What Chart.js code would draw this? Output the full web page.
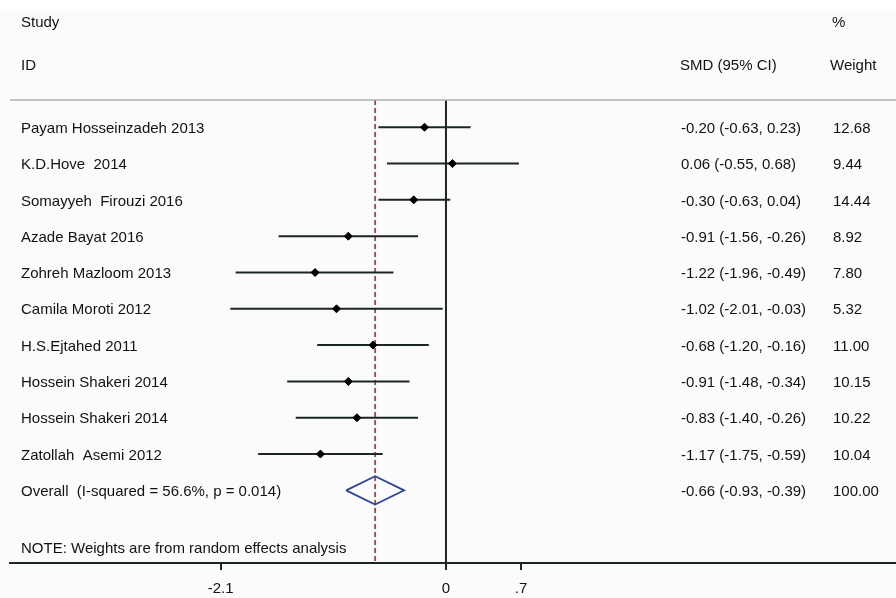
<!DOCTYPE html>
<html>
<head>
<meta charset="utf-8">
<script src="https://cdn.jsdelivr.net/npm/chart.js@4/dist/chart.umd.min.js"></script>
<style>
  html, body { margin: 0; padding: 0; background: #ffffff; }
  #forest { display: block; }
</style>
</head>
<body>
<canvas id="forest" width="896" height="598"></canvas>
<script>
// Study data (SMD and 95% CI)
var studies = [ 'Payam Hosseinzadeh 2013', 'K.D.Hove  2014', 'Somayyeh  Firouzi 2016', 'Azade Bayat 2016',
                'Zohreh Mazloom 2013', 'Camila Moroti 2012', 'H.S.Ejtahed 2011', 'Hossein Shakeri 2014',
                'Hossein Shakeri 2014', 'Zatollah  Asemi 2012' ];
var smd     = [ -0.20, 0.06, -0.30, -0.91, -1.22, -1.02, -0.68, -0.91, -0.83, -1.17 ];
var ciLow   = [ -0.63, -0.55, -0.63, -1.56, -1.96, -2.01, -1.20, -1.48, -1.40, -1.75 ];
var ciHigh  = [ 0.23, 0.68, 0.04, -0.26, -0.49, -0.03, -0.16, -0.34, -0.26, -0.59 ];
var weights = [ '12.68', '9.44', '14.44', '8.92', '7.80', '5.32', '11.00', '10.15', '10.22', '10.04' ];

var overallLabel  = 'Overall  (I-squared = 56.6%, p = 0.014)';
var overallSmd    = -0.66;
var overallLow    = -0.93;
var overallHigh   = -0.39;
var overallWeight = '100.00';

var xTicks      = [ -2.1, 0, 0.7 ];
var xTickLabels = [ '-2.1', '0', '.7' ];

var FAMILY = '"Liberation Sans", Arial, sans-serif',
    FONT = '15px ' + FAMILY,
    TEXT = '#0f1315',
    INK  = '#1c2626',
    xMin = -4.063, xMax = 4.194,   // plot spans the full width
    yMin = -0.75,  yMax = 12,      // row index, top to bottom
    overallRow = studies.length,
    diamondHalf = 0.39,
    textDrop = 1.5;                // visual centring of text on the rows

function fmt( v ){ return v.toFixed( 2 ); }
function smdText( e, l, h ){ return fmt( e ) + ' (' + fmt( l ) + ', ' + fmt( h ) + ')'; }

var datasets = [];

// point estimates
datasets.push( {
    data: smd.map( function( v, i ){ return { x: v, y: i }; } ),
    pointStyle: 'rectRot', pointRadius: 4, backgroundColor: '#000', borderColor: '#000',
    showLine: false, order: 0
} );

// confidence intervals
studies.forEach( function( s, i ){
    datasets.push( {
        data: [ { x: ciLow[ i ], y: i }, { x: ciHigh[ i ], y: i } ],
        showLine: true, borderColor: INK, borderWidth: 2, pointRadius: 0, order: 1
    } );
} );

// overall diamond
datasets.push( {
    data: [ { x: overallLow, y: overallRow }, { x: overallSmd, y: overallRow - diamondHalf },
            { x: overallHigh, y: overallRow }, { x: overallSmd, y: overallRow + diamondHalf },
            { x: overallLow, y: overallRow } ],
    showLine: true, borderColor: '#2d4696', borderWidth: 1.8, pointRadius: 0, tension: 0, order: 1
} );

// line of no effect
datasets.push( {
    data: [ { x: 0, y: yMin }, { x: 0, y: yMax } ],
    showLine: true, borderColor: INK, borderWidth: 2, pointRadius: 0, order: 2
} );

// overall effect (dashed)
datasets.push( {
    data: [ { x: overallSmd, y: yMin }, { x: overallSmd, y: yMax } ],
    showLine: true, borderColor: '#a3444a', borderWidth: 1.8, borderDash: [ 5, 3 ], pointRadius: 0, order: 3
} );

// background + text columns
var forestText = {
    id: 'forestText',
    beforeDraw: function( chart ){
        var c = chart.ctx;
        c.save();
        c.fillStyle = '#fbfbfc';
        c.fillRect( 0, 10, chart.width, chart.height - 10 );
        c.restore();
    },
    afterDatasetsDraw: function( chart ){
        var c  = chart.ctx,
            ys = chart.scales.y,
            area = chart.chartArea;
        c.save();
        c.font = FONT;
        c.fillStyle = TEXT;
        c.textBaseline = 'middle';
        c.textAlign = 'left';

        // headers
        c.fillText( 'Study', 21, 21 + textDrop );
        c.fillText( 'ID', 21, 64 + textDrop );
        c.fillText( '%', 832, 21 + textDrop );
        c.fillText( 'SMD (95% CI)', 680, 64 + textDrop );
        c.fillText( 'Weight', 830, 64 + textDrop );

        // header separator
        c.strokeStyle = '#a9b1b8';
        c.lineWidth = 1.5;
        c.beginPath();
        c.moveTo( area.left, area.top );
        c.lineTo( area.right, area.top );
        c.stroke();

        studies.forEach( function( s, i ){
            var y = ys.getPixelForValue( i ) + textDrop;
            c.fillText( s, 21, y );
            c.fillText( smdText( smd[ i ], ciLow[ i ], ciHigh[ i ] ), 681, y );
            c.fillText( weights[ i ], 833, y );
        } );

        var y = ys.getPixelForValue( overallRow ) + textDrop;
        c.fillText( overallLabel, 21, y );
        c.fillText( smdText( overallSmd, overallLow, overallHigh ), 681, y );
        c.fillText( overallWeight, 833, y );

        c.fillText( 'NOTE: Weights are from random effects analysis', 21, 547 + textDrop );
        c.restore();
    }
};

new Chart( document.getElementById( 'forest' ).getContext( '2d' ), {
    type: 'scatter',
    data: { datasets: datasets },
    options: {
        responsive: false,
        animation: false,
        devicePixelRatio: 1,
        layout: { autoPadding: false, padding: { left: 10, right: 0, top: 100, bottom: 0 } },
        plugins: { legend: { display: false }, tooltip: { enabled: false } },
        scales: {
            x: {
                type: 'linear', min: xMin, max: xMax,
                afterBuildTicks: function( s ){ s.ticks = xTicks.map( function( v ){ return { value: v }; } ); },
                afterFit: function( s ){ s.height = 35; },
                ticks: {
                    autoSkip: false, maxRotation: 0, padding: 11, color: TEXT,
                    font: { family: FAMILY, size: 15, lineHeight: 1 },
                    callback: function( v, i ){ return xTickLabels[ i ]; }
                },
                grid: { drawOnChartArea: false, tickLength: 7, color: INK, lineWidth: 2 },
                border: { color: INK, width: 2 }
            },
            y: { display: false, min: yMin, max: yMax, reverse: true }
        }
    },
    plugins: [ forestText ]
} );
</script>
</body>
</html>
